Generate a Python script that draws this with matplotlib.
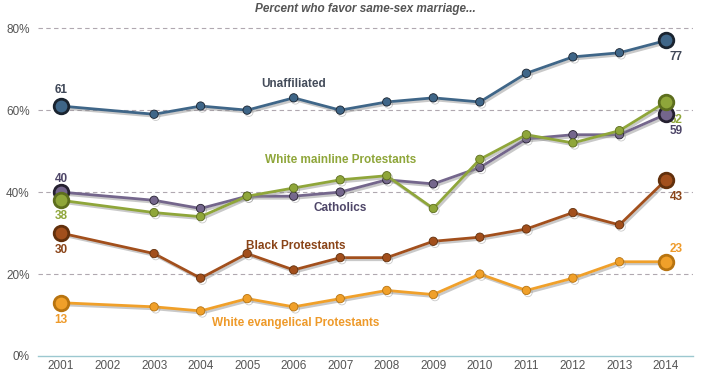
import matplotlib
matplotlib.use("Agg")
import matplotlib.pyplot as plt
import matplotlib.patheffects as pe

years = [2001, 2003, 2004, 2005, 2006, 2007, 2008, 2009, 2010, 2011, 2012, 2013, 2014]
unaffiliated = [61, 59, 61, 60, 63, 60, 62, 63, 62, 69, 73, 74, 77]
catholics = [40, 38, 36, 39, 39, 40, 43, 42, 46, 53, 54, 54, 59]
mainline = [38, 35, 34, 39, 41, 43, 44, 36, 48, 54, 52, 55, 62]
black_prot = [30, 25, 19, 25, 21, 24, 24, 28, 29, 31, 35, 32, 43]
evangelical = [13, 12, 11, 14, 12, 14, 16, 15, 20, 16, 19, 23, 23]
tick_years = list(range(2001, 2015))
y_ticks = [0, 20, 40, 60, 80]
title = "Percent who favor same-sex marriage..."

plt.rcParams['font.family'] = ['Liberation Sans', 'DejaVu Sans']

fig = plt.figure(figsize=(7.01, 3.81), dpi=100)
ax = fig.add_axes([38/701, 25/381, 655/701, 336/381])

series = [
    ("Unaffiliated", unaffiliated, "#3f6688", "#1a2430", "#404858"),
    ("Catholics", catholics, "#74668c", "#252030", "#4e4668"),
    ("White mainline Protestants", mainline, "#8fa63a", "#5d6e1e", "#8fa63a"),
    ("Black Protestants", black_prot, "#a24f1c", "#62300c", "#8a4418"),
    ("White evangelical Protestants", evangelical, "#f0a02a", "#b87410", "#ee9a2a"),
]

shadow = [pe.SimpleLineShadow(offset=(1.2, -1.5), shadow_color="#888888", alpha=0.45), pe.Normal()]

for name, vals, col, edge, lab in series:
    ax.plot(years, vals, color=col, lw=2, marker="o", ms=6, mfc=col, mec=edge, mew=0.6,
            path_effects=shadow, zorder=3)
    ax.plot([years[0], years[-1]], [vals[0], vals[-1]], ls="none", marker="o", ms=10.5,
            mfc=col, mec=edge, mew=2, zorder=4)

ax.set_xlim(2000.506, 2014.58)
ax.set_ylim(0, 82)
ax.set_xticks(tick_years)
ax.set_xticklabels([str(y) for y in tick_years], fontsize=8.5, color="#555555")
ax.set_yticks(y_ticks)
ax.set_yticklabels([f"{v}%" for v in y_ticks], fontsize=8.5, color="#555555")
ax.tick_params(axis="y", length=0, pad=6)
ax.tick_params(axis="x", length=0, pad=3)
for y in y_ticks[1:]:
    ax.axhline(y, color="#b0a8b0", lw=0.8, ls=(0, (4, 3)), zorder=1)
for s in ["top", "right", "left"]:
    ax.spines[s].set_visible(False)
ax.spines["bottom"].set_color("#9cc8d0")
ax.spines["bottom"].set_linewidth(1)

fig.text(365/701, 1 - 9/381, title, ha="center", va="center", fontsize=8.5,
         style="italic", weight="bold", color="#555555")

lbl = dict(fontsize=8.5, weight="bold", ha="center", va="center")
ax.text(2006.0, 66.5, "Unaffiliated", color="#444c5a", **lbl)
ax.text(2007.0, 47.8, "White mainline Protestants", color="#8fa63a", **lbl)
ax.text(2007.0, 36.2, "Catholics", color="#4e4668", **lbl)
ax.text(2006.05, 26.8, "Black Protestants", color="#8a4418", **lbl)
ax.text(2006.05, 8.0, "White evangelical Protestants", color="#ee9a2a", **lbl)

vl = dict(fontsize=8.5, weight="bold", ha="center", va="center")
ax.text(2001, 64.8, "61", color="#404858", **vl)
ax.text(2001, 43.3, "40", color="#4e4668", **vl)
ax.text(2001, 34.1, "38", color="#8fa63a", **vl)
ax.text(2001, 25.8, "30", color="#8a4418", **vl)
ax.text(2001, 8.7, "13", color="#ee9a2a", **vl)
ax.text(2014.22, 73.0, "77", color="#404858", **vl)
ax.text(2014.22, 57.6, "62", color="#8fa63a", **vl)
ax.text(2014.22, 54.9, "59", color="#4e4668", **vl)
ax.text(2014.22, 38.9, "43", color="#8a4418", **vl)
ax.text(2014.22, 26.2, "23", color="#ee9a2a", **vl)

fig.savefig("out.png", dpi=100)
